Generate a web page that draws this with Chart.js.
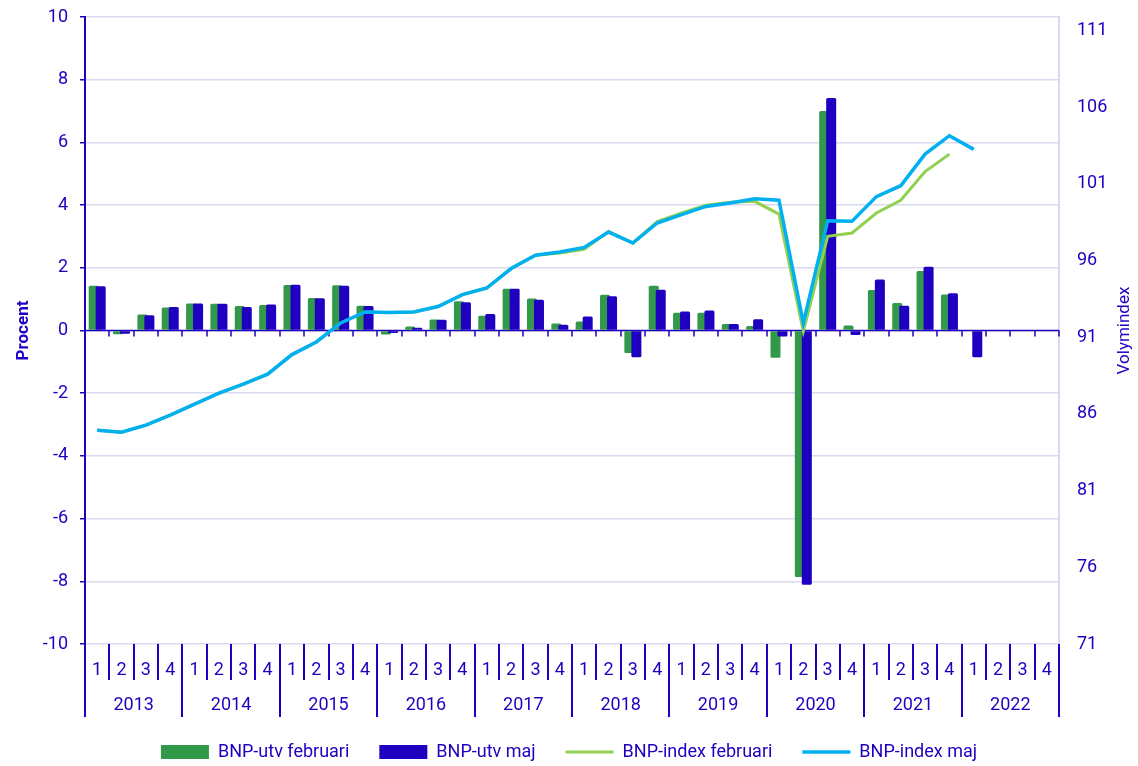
<!DOCTYPE html>
<html>
<head>
<meta charset="utf-8">
<script src="https://cdn.jsdelivr.net/npm/chart.js@4"></script>
<style>
  html, body { margin: 0; padding: 0; background: #fff; }
  #wrap { width: 1138px; height: 766px; }
</style>
</head>
<body>
<div id="wrap"><canvas id="bnpChart"></canvas></div>
<script>
// Categories
const years = ['2013', '2014', '2015', '2016', '2017', '2018', '2019', '2020', '2021', '2022'];
const quarters = ['1', '2', '3', '4'];

// BNP-utveckling, procent (left axis)
const utvFebruari = [
  1.43, -0.12, 0.51, 0.73,
  0.86, 0.85, 0.78, 0.81,
  1.45, 1.04, 1.44, 0.79,
  -0.13, 0.13, 0.35, 0.93,
  0.47, 1.33, 1.02, 0.22,
  0.29, 1.14, -0.72, 1.43,
  0.57, 0.57, 0.21, 0.14,
  -0.87, -7.86, 7.0, 0.16,
  1.29, 0.88, 1.9, 1.15,
  null, null, null, null
];
const utvMaj = [
  1.41, -0.1, 0.49, 0.75,
  0.86, 0.85, 0.75, 0.83,
  1.46, 1.03, 1.43, 0.78,
  -0.08, 0.09, 0.34, 0.9,
  0.53, 1.33, 0.98, 0.18,
  0.45, 1.09, -0.85, 1.3,
  0.61, 0.64, 0.21, 0.36,
  -0.19, -8.11, 7.42, -0.14,
  1.63, 0.79, 2.03, 1.19,
  -0.85, null, null, null
];

// BNP-index, volymindex (right axis)
const indexFebruari = [
  84.94, 84.81, 85.27, 85.92,
  86.64, 87.35, 87.94, 88.59,
  89.87, 90.69, 91.93, 92.65,
  92.61, 92.65, 93.0, 93.78,
  94.21, 95.48, 96.35, 96.5,
  96.73, 97.9, 97.15, 98.55,
  99.1, 99.6, 99.8, 99.86,
  99.03, 91.39, 97.58, 97.8,
  99.1, 99.93, 101.8, 102.94,
  null, null, null, null
];
const indexMaj = [
  84.94, 84.81, 85.27, 85.92,
  86.64, 87.35, 87.94, 88.59,
  89.87, 90.69, 91.93, 92.65,
  92.61, 92.65, 93.0, 93.78,
  94.21, 95.48, 96.35, 96.56,
  96.86, 97.86, 97.14, 98.45,
  98.99, 99.53, 99.75, 100.03,
  99.93, 91.93, 98.6, 98.56,
  100.17, 100.88, 102.94, 104.14,
  103.25, null, null, null
];

// Axis ranges and tick labels
const procentMin = -10, procentMax = 10, procentStep = 2;
const volymTicks = [71, 76, 81, 86, 91, 96, 101, 106, 111];
const volymMin = 71, volymMax = 111.88;

const labels = years.flatMap(() => quarters);

const ink = '#2000C0';
const gridColor = '#D9D9F0';
const font = 'Roboto';

// Draws the zero axis, the two-level category separators, year labels and right title
const axisDecor = {
  id: 'axisDecor',
  beforeDatasetsDraw(chart) {
    const {ctx, chartArea, scales} = chart;
    const y0 = scales.y.getPixelForValue(0);
    ctx.save();
    ctx.strokeStyle = ink;
    ctx.lineWidth = 1.5;
    ctx.beginPath();
    ctx.moveTo(chartArea.left, y0);
    ctx.lineTo(chartArea.right, y0);
    for (let i = 0; i <= labels.length; i++) {
      const px = Math.round(scales.x.getPixelForValue(i - 0.5));
      ctx.moveTo(px, y0);
      ctx.lineTo(px, y0 + 6);
    }
    ctx.stroke();
    ctx.restore();
  },
  afterDraw(chart) {
    const {ctx, chartArea, scales} = chart;
    const top = chartArea.bottom;
    ctx.save();
    ctx.strokeStyle = ink;
    ctx.lineWidth = 2;
    ctx.beginPath();
    for (let i = 0; i <= labels.length; i++) {
      const px = Math.round(scales.x.getPixelForValue(i - 0.5));
      ctx.moveTo(px, top);
      ctx.lineTo(px, i % 4 === 0 ? top + 73 : top + 36);
    }
    ctx.stroke();

    ctx.fillStyle = ink;
    ctx.font = '18px ' + font;
    ctx.textAlign = 'center';
    ctx.textBaseline = 'middle';
    years.forEach((yr, k) => {
      ctx.fillText(yr, scales.x.getPixelForValue(k * 4 + 1.5), top + 61);
    });

    ctx.translate(1125, (chartArea.top + chartArea.bottom) / 2);
    ctx.rotate(-Math.PI / 2);
    ctx.font = '17px ' + font;
    ctx.fillText('Volymindex', 0, 0);
    ctx.restore();
  },
  afterLayout(chart) {
    // nudge legend row down to where it sits in the original
    chart.legend.top += 5;
    chart.legend.bottom += 5;
  }
};

// bar slots: stack 'feb' goes left, 'maj' right; maj bars are drawn over feb bars
const barShape = {
  type: 'bar',
  borderRadius: 1.5,
  categoryPercentage: 0.575,
  barPercentage: 1.43,
  pointStyle: 'rect',
  yAxisID: 'y'
};

const data = {
  labels: labels,
  datasets: [
    Object.assign({}, barShape, {
      label: 'BNP-utv februari',
      data: utvFebruari,
      backgroundColor: '#33994A',
      stack: 'feb',
      order: 4
    }),
    Object.assign({}, barShape, {
      label: 'BNP-utv maj',
      data: utvMaj,
      backgroundColor: ink,
      stack: 'maj',
      order: 3
    }),
    {
      type: 'line',
      label: 'BNP-index februari',
      data: indexFebruari,
      borderColor: '#92D050',
      backgroundColor: '#92D050',
      borderWidth: 3,
      pointRadius: 0,
      pointStyle: 'line',
      tension: 0,
      yAxisID: 'y2',
      order: 2
    },
    {
      type: 'line',
      label: 'BNP-index maj',
      data: indexMaj,
      borderColor: '#00B0F0',
      backgroundColor: '#00B0F0',
      borderWidth: 3.5,
      pointRadius: 0,
      pointStyle: 'line',
      tension: 0,
      yAxisID: 'y2',
      order: 1
    },
    // empty placeholder that claims the left slot first
    Object.assign({}, barShape, { label: '', data: [], stack: 'feb', order: 2.5 })
  ]
};

// keep the plot area edges fixed regardless of label overhang
const noOverhang = (scale) => { scale.paddingTop = 0; scale.paddingBottom = 0; };

const config = {
  type: 'bar',
  data: data,
  options: {
    responsive: true,
    maintainAspectRatio: false,
    animation: false,
    events: [],
    layout: { padding: { top: 17, left: 0, right: 0, bottom: 0 } },
    plugins: {
      tooltip: { enabled: false },
      legend: {
        position: 'bottom',
        labels: {
          filter: item => item.datasetIndex < 4,
          sort: (a, b) => a.datasetIndex - b.datasetIndex,
          usePointStyle: true,
          pointStyleWidth: 48,
          boxHeight: 14,
          padding: 30,
          color: ink,
          font: { family: font, size: 18 }
        }
      }
    },
    scales: {
      x: {
        type: 'category',
        position: 'bottom',
        offset: true,
        grid: { display: false, drawTicks: false },
        border: { display: false },
        ticks: {
          color: ink,
          font: { family: font, size: 18 },
          padding: 16,
          autoSkip: false,
          maxRotation: 0
        },
        afterFit(scale) { scale.height = 64; }
      },
      y: {
        position: 'left',
        stacked: false,
        min: procentMin,
        max: procentMax,
        ticks: {
          stepSize: procentStep,
          color: ink,
          font: { family: font, size: 18 },
          padding: 12
        },
        grid: { color: gridColor, lineWidth: 1.5, tickColor: ink, tickLength: 5 },
        border: { color: ink, width: 2 },
        title: {
          display: true,
          text: 'Procent',
          color: ink,
          font: { family: font, size: 17, weight: 'bold' },
          padding: { top: 14, bottom: 0 }
        },
        afterFit(scale) { scale.width = 85; noOverhang(scale); }
      },
      y2: {
        position: 'right',
        min: volymMin,
        max: volymMax,
        afterBuildTicks(scale) { scale.ticks = volymTicks.map(v => ({ value: v })); },
        ticks: {
          color: ink,
          font: { family: font, size: 18 },
          padding: 18
        },
        grid: { drawOnChartArea: false, drawTicks: false },
        border: { color: gridColor, width: 2 },
        afterFit(scale) { scale.width = 79; noOverhang(scale); }
      }
    }
  },
  plugins: [axisDecor]
};

new Chart(document.getElementById('bnpChart'), config);
</script>
</body>
</html>
